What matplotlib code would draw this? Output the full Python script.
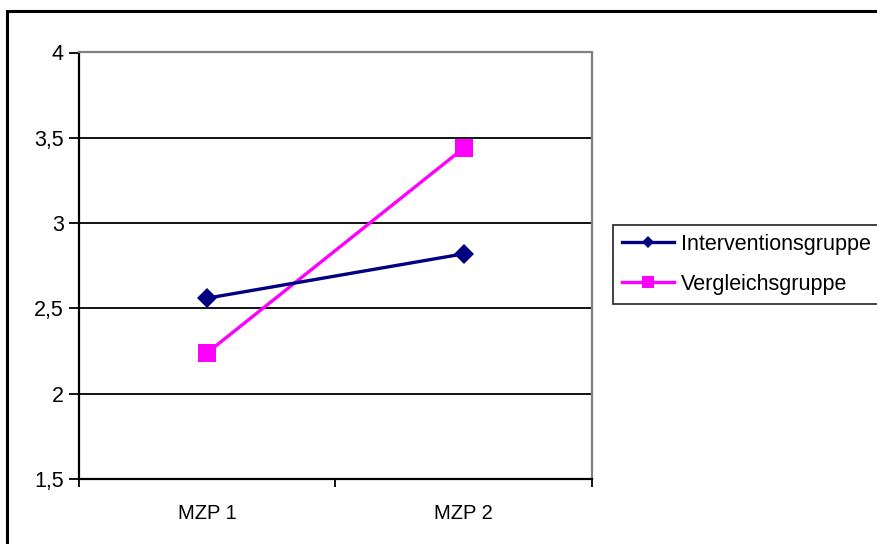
import matplotlib
matplotlib.use("Agg")
import matplotlib.pyplot as plt
from matplotlib.patches import Rectangle

categories = ["MZP 1", "MZP 2"]
interventionsgruppe = [2.56, 2.82]
vergleichsgruppe = [2.24, 3.44]
y_ticks = [1.5, 2.0, 2.5, 3.0, 3.5, 4.0]
y_labels = ["1,5", "2", "2,5", "3", "3,5", "4"]
series_names = ["Interventionsgruppe", "Vergleichsgruppe"]

plt.rcParams['font.family'] = ['Liberation Sans', 'DejaVu Sans']

W, H = 878, 544
fig = plt.figure(figsize=(W / 100, H / 100), dpi=100)
fig.patch.set_facecolor("white")

# outer chart frame (right and bottom edges fall outside the picture)
fig.patches.append(Rectangle((7.5 / W, -0.2), 2, 1.2 - 11 / H, transform=fig.transFigure,
                             fill=False, edgecolor="black", linewidth=2.2, zorder=0))

ax = fig.add_axes([79 / W, (H - 479) / H, (592 - 79) / W, (479 - 52.5) / H])

x = list(range(len(categories)))
l1, = ax.plot(x, interventionsgruppe, color="#000080", linewidth=2.4, marker="D",
              markersize=10, markeredgewidth=0, label=series_names[0], zorder=4,
              clip_on=False)
l2, = ax.plot(x, vergleichsgruppe, color="#FF00FF", linewidth=2.4, marker="s",
              markersize=13.5, markeredgewidth=0, label=series_names[1], zorder=3,
              clip_on=False)

ax.set_xlim(-0.5, len(categories) - 0.5)
ax.set_ylim(1.5, 4.0)
ax.set_yticks(y_ticks)
ax.set_yticklabels(y_labels)
ax.set_xticks(x)
ax.set_xticklabels(categories)
ax.set_xticks([i - 0.5 for i in range(len(categories) + 1)], minor=True)

for yv in y_ticks[1:-1]:
    ax.axhline(yv, color="black", linewidth=1.3, zorder=1)

ax.tick_params(axis="y", direction="out", length=7, width=1.3, color="black",
               labelsize=15.5, pad=4)
ax.tick_params(axis="x", which="major", length=0, labelsize=14.5, pad=18)
ax.tick_params(axis="x", which="minor", direction="out", length=6, width=1.3, color="black")

ax.spines["left"].set_color("black")
ax.spines["left"].set_linewidth(1.6)
ax.spines["bottom"].set_color("black")
ax.spines["bottom"].set_linewidth(1.6)
ax.spines["top"].set_color("#808080")
ax.spines["top"].set_linewidth(1.6)
ax.spines["right"].set_color("#808080")
ax.spines["right"].set_linewidth(1.6)

leg = fig.legend(handles=[l1, l2], loc="upper left",
                 bbox_to_anchor=(613 / W, 1 - 225 / H), frameon=True, fancybox=False,
                 fontsize=15.5, handlelength=2.45, handletextpad=0.32,
                 borderpad=0.4, labelspacing=0.9, borderaxespad=0)
leg.get_frame().set_edgecolor("black")
leg.get_frame().set_linewidth(1.3)
leg_sizes = [6, 8.6]
for h, s in zip(leg.legend_handles, leg_sizes):
    h.set_markersize(s)

fig.savefig("out.png", dpi=100)
